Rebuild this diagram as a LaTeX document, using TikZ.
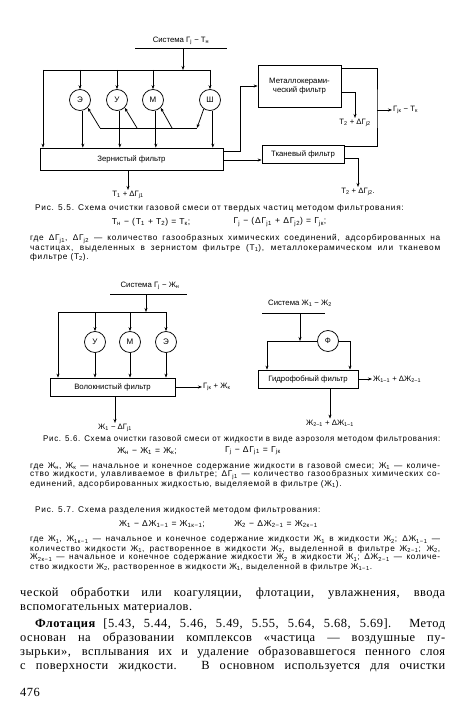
\documentclass[tikz,border=0pt]{standalone}
\usepackage{fontspec}
\usepackage{graphicx}
\setmainfont{Liberation Serif}
\newfontfamily\diagfont{Liberation Sans}
\newfontfamily\capfont[LetterSpace=9]{Liberation Sans}
\newfontfamily\bodyfont[LetterSpace=4]{Liberation Serif}
\usetikzlibrary{arrows.meta}
\newcommand{\lo}[1]{\textsubscript{#1}}

\begin{document}
\begin{tikzpicture}[x=1bp,y=-1bp,
    flow/.style={-{Stealth[length=4bp,width=3bp]},line width=0.75bp},
    wire/.style={line width=0.75bp},
    fbox/.style={draw,line width=0.75bp,inner sep=0pt,align=center,font=\diagfont\fontsize{7.8}{9}\selectfont},
    agent/.style={draw,circle,line width=0.75bp,minimum size=21bp,inner sep=0pt,font=\diagfont\fontsize{8}{9}\selectfont},
    lbl/.style={inner sep=1bp,font=\diagfont\fontsize{7.8}{9}\selectfont},
    capline/.style={anchor=west,inner sep=0pt,font=\capfont\fontsize{8.3}{9}\selectfont},
    formula/.style={inner sep=0pt,font=\capfont\fontsize{8.6}{10}\selectfont},
    bodyline/.style={anchor=west,inner sep=0pt,font=\bodyfont\fontsize{12.5}{15}\selectfont}]
  \fill[white] (0,0) rectangle (450,709);
  \useasboundingbox (0,0) rectangle (450,709);

  % Рис. 5.5
  \node[lbl] (hdrA) at (181,41) {Система Г\lo{j} − Т\lo{н}};
  \draw[wire] (135,48) -- (227,48);
  \coordinate (inA) at (183,48);
  \coordinate (busAL) at (43,70);
  \coordinate (busAR) at (210,70);
  \draw[flow] (inA) -- (inA |- busAL);
  \draw[wire] (busAL) -- (busAR);
  \node[agent] (e1) at (80,100) {Э};
  \node[agent] (u1) at (117,100) {У};
  \node[agent] (m1) at (153,100) {М};
  \node[agent] (sh1) at (210,100) {Ш};
  \node[fbox,minimum width=183bp,minimum height=22bp] (zf) at (131.5,159) {Зернистый фильтр};
  \draw[flow] (busAL) -- (busAL |- zf.north);
  \foreach \c in {e1,u1,m1,sh1} {
    \draw[flow] (\c |- busAL) -- (\c.north);
    \draw[flow] (\c.-75) -- (\c.-75 |- zf.north);
  }
  % возврат
  \coordinate (rcL) at (100,128);
  \coordinate (rc2) at (137,128);
  \coordinate (rc3) at (172,128);
  \coordinate (rcR) at (197,128);
  \draw[wire] (rcL) -- (rcR);
  \draw[flow] (sh1.-125) -- (rcR);
  \draw[flow] (rcL) -- (e1.-45);
  \draw[flow] (rc2) -- (u1.-45);
  \draw[flow] (rc3) -- (m1.-45);
  % фильтры второй ступени
  \node[fbox,minimum width=83bp,minimum height=42bp] (mc) at (299.5,86) {Металлокерами-\\ческий фильтр};
  \node[fbox,minimum width=82bp,minimum height=18bp] (tk) at (303,154) {Тканевый фильтр};
  \coordinate (zfo1) at (223,151);
  \coordinate (zfo2) at (223,160);
  \draw[flow] (zfo1) -- ++(17,0) |- (mc.west);
  \draw[flow] (zfo2) -- (zfo2 -| tk.west);
  \coordinate (mco1) at (341,68);
  \coordinate (mco2) at (341,92);
  \coordinate (tko1) at (344,146);
  \coordinate (tko2) at (344,158);
  \coordinate (jn) at (377,110);
  \draw[wire] (mco1) -| (jn) |- (tko1);
  \node[lbl,anchor=west] (gk) at (392,110) {Г\lo{jк} − Т\lo{к}};
  \draw[flow] (jn) -- (gk.west);
  \node[lbl] (t2a) at (355,123) {Т\lo{2} + ΔГ\lo{j2}};
  \draw[flow] (mco2) -| (t2a.north);
  \node[lbl] (t2b) at (358,192) {Т\lo{2} + ΔГ\lo{j2}.};
  \draw[flow] (tko2) -| (t2b.north);
  \node[lbl] (t1) at (128,195) {Т\lo{1} + ΔГ\lo{j1}};
  \draw[flow] (zf.south -| t1.north) -- (t1.north);

  \node[capline] (capA) at (35,208) {Рис. 5.5. Схема очистки газовой смеси от твердых частиц методом фильтрования:};
  \node[formula] (fA1) at (151,222) {Т\lo{н} − (Т\lo{1} + Т\lo{2}) = Т\lo{к};};
  \node[formula] (fA2) at (280,222) {Г\lo{j} − (ΔГ\lo{j1} + ΔГ\lo{j2}) = Г\lo{jк};};
  \node[capline] (wA1) at (30,239) {\makebox[410bp][s]{где ΔГ\lo{j1}, ΔГ\lo{j2} — количество газообразных химических соединений, адсорбированных на}};
  \node[capline] (wA2) at (30,248) {\makebox[410bp][s]{частицах, выделенных в зернистом фильтре (Т\lo{1}), металлокерамическом или тканевом}};
  \node[capline] (wA3) at (30,257) {фильтре (Т\lo{2}).};

  % Рис. 5.6
  \node[lbl] (hdrB) at (150,286) {Система Г\lo{j} − Ж\lo{н}};
  \draw[wire] (110,294) -- (187,294);
  \coordinate (inB) at (146,294);
  \coordinate (busBL) at (58,312);
  \coordinate (busBR) at (166,312);
  \draw[flow] (inB) -- (inB |- busBL);
  \draw[wire] (busBL) -- (busBR);
  \node[agent] (uB) at (95,342) {У};
  \node[agent] (mB) at (130,342) {М};
  \node[agent] (eB) at (166,342) {Э};
  \node[fbox,minimum width=125bp,minimum height=18bp] (vf) at (112.5,387) {Волокнистый фильтр};
  \draw[flow] (busBL) -- (busBL |- vf.north);
  \foreach \c in {uB,mB,eB} {
    \draw[flow] (\c |- busBL) -- (\c.north);
    \draw[flow] (\c.south) -- (\c.south |- vf.north);
  }
  \node[lbl,anchor=west] (gkB) at (202,387) {Г\lo{jк} + Ж\lo{к}};
  \draw[flow] (vf.east) -- (gkB.west);
  \node[lbl] (j1) at (115,428) {Ж\lo{1} − ΔГ\lo{j1}};
  \draw[flow] (vf.south -| j1.north) -- (j1.north);

  % Рис. 5.7
  \node[lbl] (hdrC) at (300,303) {Система Ж\lo{1} − Ж\lo{2}};
  \draw[wire] (262,313) -- (325,313);
  \coordinate (inC) at (300,313);
  \coordinate (busCL) at (267,341);
  \node[agent] (fi) at (328,341) {Ф};
  \draw[flow] (inC) -- (inC |- busCL);
  \draw[wire] (busCL) -- (fi.west);
  \node[fbox,minimum width=100bp,minimum height=18bp] (gf) at (308,379) {Гидрофобный фильтр};
  \draw[flow] (busCL) -- (busCL |- gf.north);
  \coordinate (fo) at (350,341);
  \draw[flow] (fi.east) -- (fo) -- (fo |- gf.north);
  \node[lbl,anchor=west] (jA) at (372,379) {Ж\lo{1−1} + ΔЖ\lo{2−1}};
  \draw[flow] (gf.east) -- (jA.west);
  \node[lbl] (jB) at (330,423) {Ж\lo{2−1} + ΔЖ\lo{1−1}};
  \draw[flow] (gf.south -| jB.north) -- (jB.north);

  \node[capline] (capB) at (43,439) {\resizebox{397bp}{\height}{Рис. 5.6. Схема очистки газовой смеси от жидкости в виде аэрозоля методом фильтрования:}};
  \node[formula] (fB1) at (147,451) {Ж\lo{н} − Ж\lo{1} = Ж\lo{к};};
  \node[formula] (fB2) at (253,451) {Г\lo{j} − ΔГ\lo{j1} = Г\lo{jк}};
  \node[capline] (wB1) at (30,466) {\makebox[410bp][s]{где Ж\lo{н}, Ж\lo{к} — начальное и конечное содержание жидкости в газовой смеси; Ж\lo{1} — количе-}};
  \node[capline] (wB2) at (30,475) {\makebox[410bp][s]{ство жидкости, улавливаемое в фильтре; ΔГ\lo{j1} — количество газообразных химических со-}};
  \node[capline] (wB3) at (30,484) {единений, адсорбированных жидкостью, выделяемой в фильтре (Ж\lo{1}).};

  \node[capline] (capC) at (35,510) {Рис. 5.7. Схема разделения жидкостей методом фильтрования:};
  \node[formula] (fC1) at (162,524) {Ж\lo{1} − ΔЖ\lo{1−1} = Ж\lo{1к−1};};
  \node[formula] (fC2) at (276,524) {Ж\lo{2} − ΔЖ\lo{2−1} = Ж\lo{2к−1}};
  \node[capline] (wC1) at (30,540) {\makebox[410bp][s]{где Ж\lo{1}, Ж\lo{1к−1} — начальное и конечное содержание жидкости Ж\lo{1} в жидкости Ж\lo{2}; ΔЖ\lo{1−1} —}};
  \node[capline] (wC2) at (30,549) {\makebox[410bp][s]{количество жидкости Ж\lo{1}, растворенное в жидкости Ж\lo{2}, выделенной в фильтре Ж\lo{2−1}; Ж\lo{2},}};
  \node[capline] (wC3) at (30,558) {\makebox[410bp][s]{Ж\lo{2к−1} — начальное и конечное содержание жидкости Ж\lo{2} в жидкости Ж\lo{1}; ΔЖ\lo{2−1} — количе-}};
  \node[capline] (wC4) at (30,567) {ство жидкости Ж\lo{2}, растворенное в жидкости Ж\lo{1}, выделенной в фильтре Ж\lo{1−1}.};

  % текст страницы
  \node[bodyline] (b1) at (20,593) {\makebox[425bp][s]{ческой обработки или коагуляции, флотации, увлажнения, ввода}};
  \node[bodyline] (b2) at (20,609) {вспомогательных материалов.};
  \node[bodyline] (b3) at (35,624) {\makebox[410bp][s]{{\bfseries Флотация} [5.43, 5.44, 5.46, 5.49, 5.55, 5.64, 5.68, 5.69]. Метод}};
  \node[bodyline] (b4) at (20,638) {\makebox[425bp][s]{основан на образовании комплексов «частица — воздушные пу-}};
  \node[bodyline] (b5) at (20,652) {\makebox[425bp][s]{зырьки», всплывания их и удаление образовавшегося пенного слоя}};
  \node[bodyline] (b6) at (20,667) {\makebox[425bp][s]{с поверхности жидкости. В основном используется для очистки}};
  \node[bodyline] (pg) at (20,692) {476};
\end{tikzpicture}
\end{document}
